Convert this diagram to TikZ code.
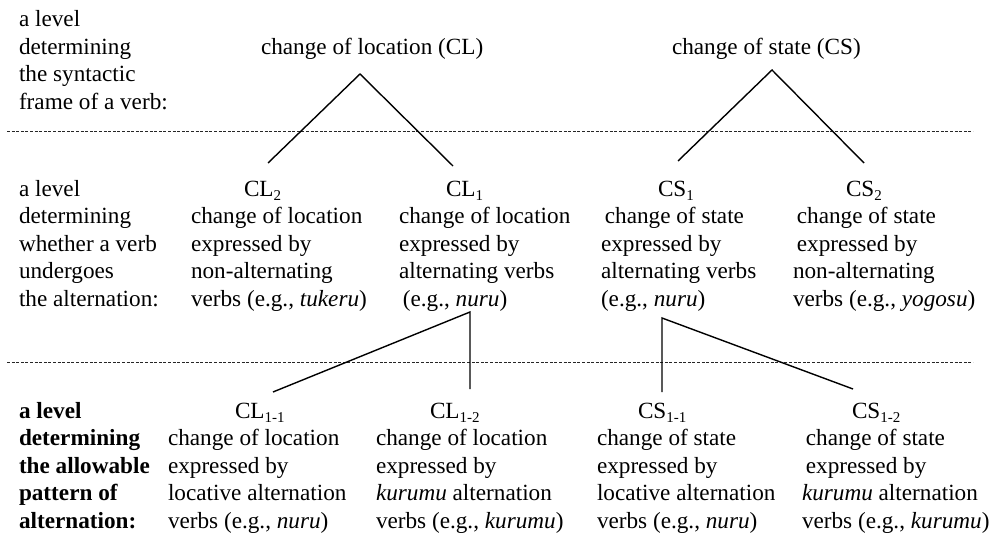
\documentclass[tikz,border=0pt]{standalone}
\usepackage{fontspec}
\setmainfont{Liberation Serif}
\newcommand\subs[1]{\raisebox{-4pt}{\fontsize{15}{15}\selectfont #1}}
\newcommand\blk[1]{\begin{tabular}[t]{@{}l@{}}#1\end{tabular}}
\begin{document}
\begin{tikzpicture}[x=1pt,y=-1pt,
  every node/.style={inner sep=0pt, outer sep=0pt, font=\fontsize{23.2}{27.5}\selectfont},
  tx/.style={anchor=base west},
  txb/.style={anchor=base west, font=\fontsize{23.2}{27.5}\selectfont\bfseries},
  conn/.style={line width=1.4pt},
  sep/.style={dash pattern=on 3pt off 1.6pt, line width=0.8pt, draw=black!85}]
\useasboundingbox (0,0) rectangle (990,534);

% level labels
\node[tx] (lvlA) at (19,27) {\blk{a level\\determining\\the syntactic\\frame of a verb:}};
\node[tx] (lvlB) at (19,196.5) {\blk{a level\\determining\\whether a verb\\undergoes\\the alternation:}};
\node[txb] (lvlC) at (19,418) {\blk{a level\\determining\\the allowable\\pattern of\\alternation:}};

% top level
\node[tx] (clTop) at (261,55) {change of location (CL)};
\node[tx] (csTop) at (672,55) {change of state (CS)};

% middle level
\node[tx] (cl2h) at (244,196.5) {CL\subs{2}};
\node[tx] (cl2b) at (191,224) {\blk{change of location\\expressed by\\non-alternating\\verbs (e.g., \textit{tukeru})}};
\node[tx] (cl1h) at (446,196.5) {CL\subs{1}};
\node[tx] (cl1b) at (399,224) {\blk{change of location\\expressed by\\alternating verbs\\\,(e.g., \textit{nuru})}};
\node[tx] (cs1h) at (658,196.5) {CS\subs{1}};
\node[tx] (cs1b) at (601,224) {\blk{\,change of state\\expressed by\\alternating verbs\\(e.g., \textit{nuru})}};
\node[tx] (cs2h) at (846,196.5) {CS\subs{2}};
\node[tx] (cs2b) at (793,224) {\blk{\,change of state\\\,expressed by\\non-alternating\\verbs (e.g., \textit{yogosu})}};

% bottom level
\node[tx] (cl11h) at (235,418) {CL\subs{1-1}};
\node[tx] (cl11b) at (168,445.5) {\blk{change of location\\expressed by\\locative alternation\\verbs (e.g., \textit{nuru})}};
\node[tx] (cl12h) at (430,418) {CL\subs{1-2}};
\node[tx] (cl12b) at (376,445.5) {\blk{change of location\\expressed by\\\textit{kurumu} alternation\\verbs (e.g., \textit{kurumu})}};
\node[tx] (cs11h) at (638,418) {CS\subs{1-1}};
\node[tx] (cs11b) at (597,445.5) {\blk{change of state\\expressed by\\locative alternation\\verbs (e.g., \textit{nuru})}};
\node[tx] (cs12h) at (852,418) {CS\subs{1-2}};
\node[tx] (cs12b) at (802,445.5) {\blk{\,change of state\\\,expressed by\\\textit{kurumu} alternation\\verbs (e.g., \textit{kurumu})}};

% connector end points
\coordinate (clApex) at (360,74);
\coordinate (clL) at (268,163);
\coordinate (clR) at (453,166);
\coordinate (csApex) at (772,70);
\coordinate (csL) at (678,161);
\coordinate (csR) at (864,163);
\coordinate (cl1Apex) at (470,312);
\coordinate (cl11End) at (273,392);
\coordinate (cl12End) at (470,389);
\coordinate (cs1Apex) at (662,318);
\coordinate (cs11End) at (662,392);
\coordinate (cs12End) at (853,389);
\coordinate (d1L) at (7,131);
\coordinate (d1R) at (973,131);
\coordinate (d2L) at (7,362);
\coordinate (d2R) at (973,362);

% dashed level separators
\draw[sep] (d1L) -- (d1R);
\draw[sep] (d2L) -- (d2R);

% tree connectors
\draw[conn] (clL) -- (clApex) -- (clR);
\draw[conn] (csL) -- (csApex) -- (csR);
\draw[conn] (cl11End) -- (cl1Apex) -- (cl12End);
\draw[conn] (cs11End) -- (cs1Apex) -- (cs12End);
\end{tikzpicture}
\end{document}
